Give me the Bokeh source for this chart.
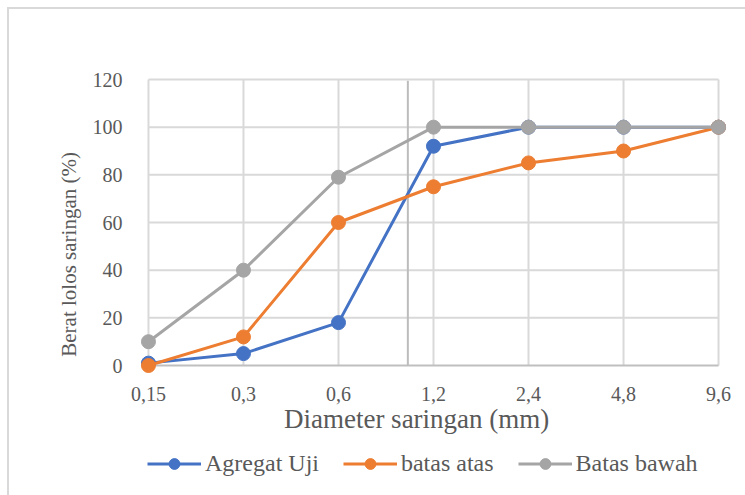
from bokeh.plotting import figure
from bokeh.layouts import column
from bokeh.models import (ColumnDataSource, Range1d, FixedTicker, Legend, LegendItem,
                          InlineStyleSheet)
from bokeh.embed import file_html
from bokeh.resources import INLINE

# Sieve sizes (mm) and cumulative percent passing
sieve_labels = ["0,15", "0,3", "0,6", "1,2", "2,4", "4,8", "9,6"]
agregat_uji = [1, 5, 18, 92, 100, 100, 100]
batas_atas = [0, 12, 60, 75, 85, 90, 100]
batas_bawah = [10, 40, 79, 100, 100, 100, 100]
y_ticks = [0, 20, 40, 60, 80, 100, 120]

FONT = "Liberation Serif"
TEXT_COLOR = "#595959"
GRID_COLOR = "#d9d9d9"
NBSP = "\u00a0"

x_pos = list(range(len(sieve_labels)))

p = figure(output_backend="svg", toolbar_location=None,
           x_range=Range1d(-0.147, 6.147), y_range=Range1d(-4.19, 121.68),
           frame_width=598, frame_height=300,
           min_border_left=134, min_border_right=13, min_border_top=75,
           min_border_bottom=70)
p.outline_line_color = None
p.background_fill_color = "white"
p.border_fill_color = "white"
p.xgrid.visible = False
p.ygrid.visible = False

# Gridlines limited to the category span
top, bottom = y_ticks[-1], y_ticks[0]
p.segment(x0=x_pos, y0=[bottom] * len(x_pos), x1=x_pos, y1=[top] * len(x_pos),
          line_color=GRID_COLOR, line_width=2)
p.segment(x0=[x_pos[0]] * (len(y_ticks) - 1), y0=y_ticks[1:],
          x1=[x_pos[-1]] * (len(y_ticks) - 1), y1=y_ticks[1:],
          line_color=GRID_COLOR, line_width=2)
p.segment(x0=[x_pos[0]], y0=[0], x1=[x_pos[-1]], y1=[0],
          line_color="#bfbfbf", line_width=2)
# stray darker vertical rule between 0,6 and 1,2
p.segment(x0=[2.73], y0=[0], x1=[2.73], y1=[119.5], line_color="#bcbcbc", line_width=2)

series = [
    ("Agregat Uji", agregat_uji, "#4472C4"),
    ("batas atas", batas_atas, "#ED7D31"),
    ("Batas bawah", batas_bawah, "#A5A5A5"),
]
for name, vals, color in series:
    src = ColumnDataSource(dict(x=x_pos, y=vals))
    p.line("x", "y", source=src, line_color=color, line_width=3)
    p.scatter("x", "y", source=src, size=14, marker="circle",
              fill_color=color, line_color=color)

# Axes
p.xaxis.ticker = FixedTicker(ticks=x_pos)
p.xaxis.major_label_overrides = {i: s for i, s in enumerate(sieve_labels)}
p.yaxis.ticker = FixedTicker(ticks=y_ticks)
for ax in (p.xaxis[0], p.yaxis[0]):
    ax.axis_line_color = None
    ax.major_tick_line_color = None
    ax.minor_tick_line_color = None
    ax.major_label_text_font = FONT
    ax.major_label_text_font_size = "20px"
    ax.major_label_text_color = TEXT_COLOR
    ax.axis_label_text_font = FONT
    ax.axis_label_text_font_style = "normal"
    ax.axis_label_text_color = TEXT_COLOR
p.xaxis.major_label_standoff = 5
p.yaxis.major_label_standoff = 6
# trailing no-break spaces nudge the centred titles off the frame centre
p.xaxis.axis_label = "Diameter saringan (mm)" + NBSP * 5
p.xaxis.axis_label_text_font_size = "27px"
p.xaxis.axis_label_standoff = 0
p.yaxis.axis_label = "Berat lolos saringan (%)" + NBSP * 11
p.yaxis.axis_label_text_font_size = "21px"
p.yaxis.axis_label_standoff = 9

# Legend strip underneath the chart; its ranges keep the series lines out of view
lg = figure(width=745, height=50, output_backend="svg", toolbar_location=None,
            x_axis_type=None, y_axis_type=None,
            x_range=Range1d(-100, -99), y_range=Range1d(-100, -99),
            min_border=0, min_border_left=0, min_border_right=0,
            min_border_top=0, min_border_bottom=0)
lg.outline_line_color = None
lg.background_fill_alpha = 0
lg.border_fill_alpha = 0
lg.xgrid.visible = False
lg.ygrid.visible = False
items = []
for name, vals, color in series:
    src = ColumnDataSource(dict(x=x_pos, y=vals))
    ln = lg.line("x", "y", source=src, line_color=color, line_width=3)
    mk = lg.scatter("x", "y", source=src, size=14, marker="circle",
                    fill_color=color, line_color=color)
    items.append(LegendItem(label=name, renderers=[ln, mk]))
legend = Legend(items=items, orientation="horizontal", location=(13, 17),
                label_text_font=FONT, label_text_font_size="24px",
                label_text_color=TEXT_COLOR, glyph_width=54, glyph_height=27,
                label_height=30, label_standoff=4, spacing=24, padding=0, margin=0,
                border_line_color=None, background_fill_alpha=0)
lg.add_layout(legend, "center")

layout = column(p, lg, spacing=0)

# Light border of the chart area (left and top edges in view)
layout.stylesheets = [InlineStyleSheet(css="""
:host::after {
  content: "";
  position: absolute;
  left: 7px; top: 7px;
  width: 2000px; height: 2000px;
  border: 2px solid #d9d9d9;
  pointer-events: none;
}
""")]

open("out.html", "w").write(file_html(layout, INLINE))
